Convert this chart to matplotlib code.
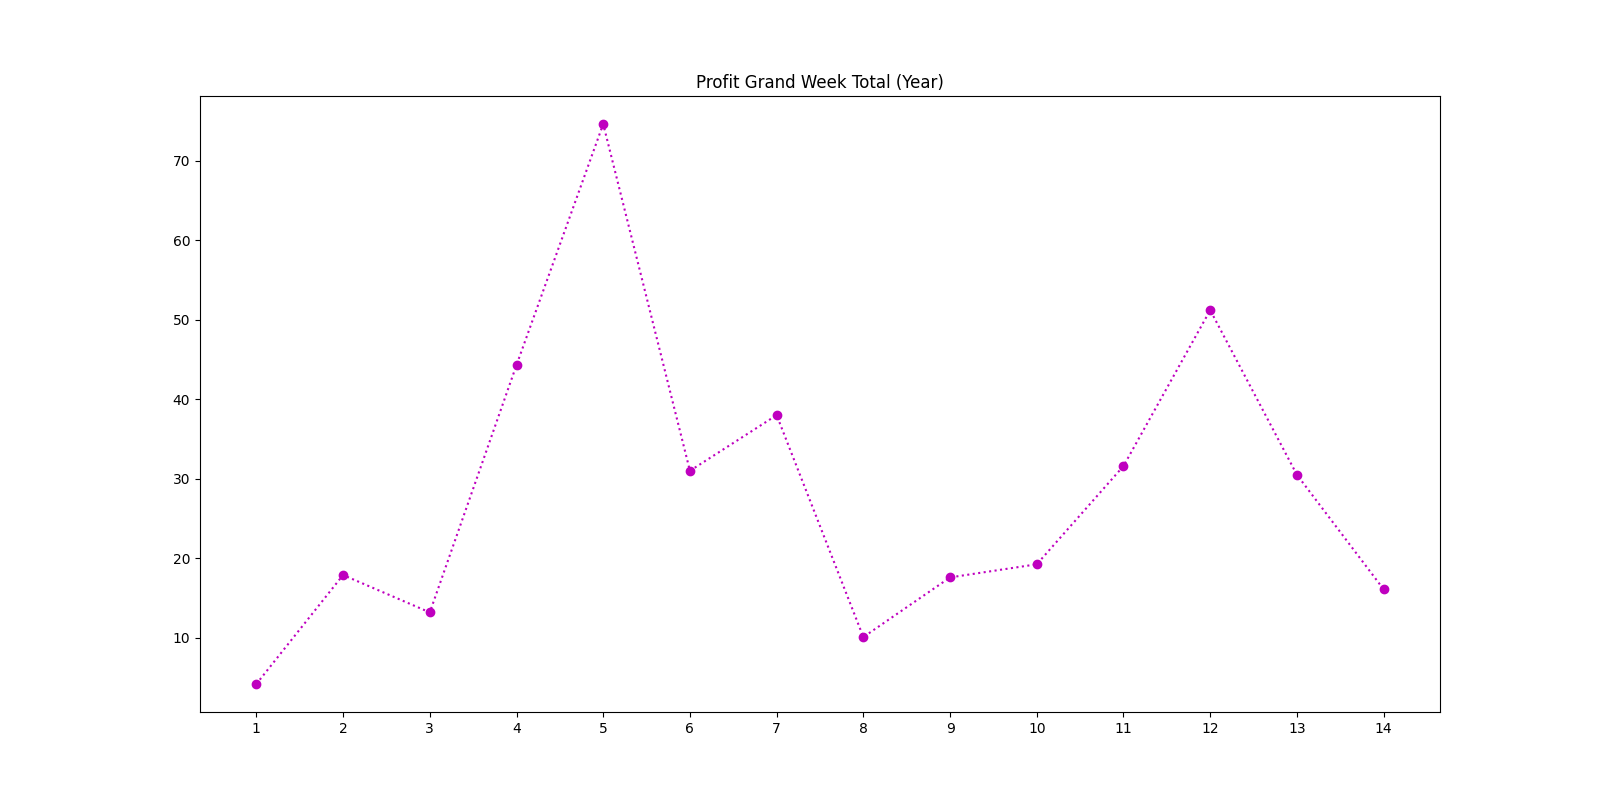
import matplotlib
matplotlib.use("Agg")
import matplotlib.pyplot as plt

# weekly profit totals
weeks = [1, 2, 3, 4, 5, 6, 7, 8, 9, 10, 11, 12, 13, 14]
profit = [4.2, 17.9, 13.2, 44.3, 74.6, 31.0, 38.0, 10.1, 17.6, 19.25, 31.6, 51.2, 30.5, 16.1]

fig, ax = plt.subplots(figsize=(16, 8), dpi=100)
ax.plot(weeks, profit, color='m', linestyle=':', marker='o')
ax.set_xticks(weeks)
ax.set_title('Profit Grand Week Total (Year)')
plt.savefig('out.png')
